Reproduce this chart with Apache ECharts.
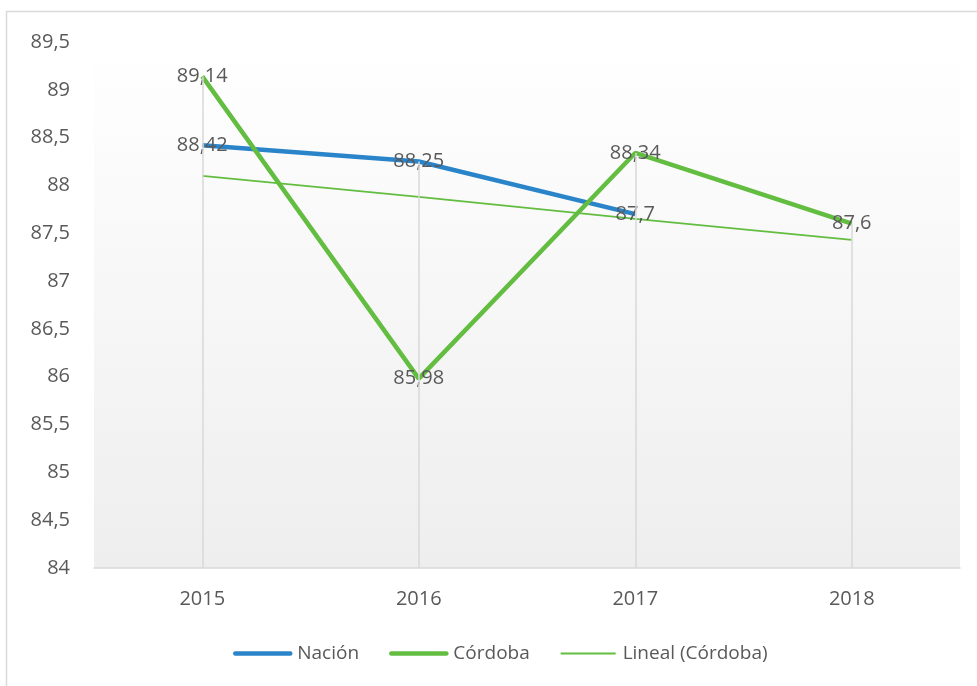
<!DOCTYPE html>
<html>
<head>
<meta charset="utf-8">
<script src="https://cdn.jsdelivr.net/npm/echarts@6/dist/echarts.min.js"></script>
<style>
html,body{margin:0;padding:0;background:#fff;}
#c{width:977px;height:686px;}
</style>
</head>
<body>
<div id="c"></div>
<script>
const categories = ['2015', '2016', '2017', '2018'];
const nacion = [88.42, 88.25, 87.7, null];
const cordoba = [89.14, 85.98, 88.34, 87.6];
const linealCordoba = [88.10, 87.88, 87.65, 87.43];
const yMin = 84, yMax = 89.5, yStep = 0.5;

const textColor = '#595959';
const font = 'Open Sans';
const fmt = v => String(v).replace('.', ',');
const blue = '#2a84c9', green = '#62bd41';

const dropTops = categories.map((c, i) => Math.max(...[nacion[i], cordoba[i]].filter(v => v != null)));

const chart = echarts.init(document.getElementById('c'), null, {renderer: 'canvas'});
chart.setOption({
  animation: false,
  backgroundColor: '#fff',
  graphic: [{
    type: 'rect', silent: true, z: -10,
    shape: {x: 6.5, y: 11.5, width: 990, height: 700},
    style: {fill: 'none', stroke: '#d9d9d9', lineWidth: 1.5}
  }],
  grid: {
    left: 94, right: 17, top: 42, bottom: 118,
    show: true, borderWidth: 0,
    backgroundColor: {
      type: 'linear', x: 0, y: 0, x2: 0, y2: 1,
      colorStops: [{offset: 0, color: '#ffffff'}, {offset: 1, color: '#eeeeee'}]
    }
  },
  legend: {
    bottom: 18, left: 228,
    itemWidth: 55, itemHeight: 14, itemGap: 30,
    data: [
      {name: 'Nación', lineStyle: {width: 4.5, color: blue, cap: 'round'}},
      {name: 'Córdoba', lineStyle: {width: 4.5, color: green, cap: 'round'}},
      {name: 'Lineal (Córdoba)', lineStyle: {width: 1.8, color: green}}
    ],
    itemStyle: {opacity: 0},
    textStyle: {color: textColor, fontFamily: font, fontSize: 19, padding: [0, 0, 0, 2]}
  },
  xAxis: {
    type: 'category', data: categories, boundaryGap: true,
    axisTick: {show: false},
    axisLine: {lineStyle: {color: '#d9d9d9', width: 1.5}},
    axisLabel: {color: textColor, fontFamily: font, fontSize: 20, margin: 21},
    splitLine: {show: false}
  },
  yAxis: {
    type: 'value', min: yMin, max: yMax, interval: yStep,
    axisLine: {show: false}, axisTick: {show: false},
    splitLine: {show: false},
    axisLabel: {color: textColor, fontFamily: font, fontSize: 20, margin: 24, formatter: v => fmt(v)}
  },
  series: [
    {
      name: 'drop', type: 'line', data: [], z: 1, silent: true,
      markLine: {
        silent: true, symbol: 'none', animation: false,
        label: {show: false},
        lineStyle: {color: '#d9d9d9', width: 1.5, type: 'solid'},
        data: categories.map((c, i) => [{coord: [c, dropTops[i]]}, {coord: [c, yMin]}])
      }
    },
    {
      name: 'Lineal (Córdoba)', type: 'line', data: linealCordoba, z: 2,
      symbol: 'none', lineStyle: {color: green, width: 1.8}, itemStyle: {color: green}
    },
    {
      name: 'Nación', type: 'line', data: nacion, z: 3,
      symbol: 'circle', symbolSize: 1, showSymbol: true,
      lineStyle: {color: blue, width: 4.5}, itemStyle: {color: blue},
      label: {show: true, position: 'inside', color: textColor, fontFamily: font, fontSize: 20, formatter: p => fmt(p.value)}
    },
    {
      name: 'Córdoba', type: 'line', data: cordoba, z: 4,
      symbol: 'circle', symbolSize: 1, showSymbol: true,
      lineStyle: {color: green, width: 4.5}, itemStyle: {color: green},
      label: {show: true, position: 'inside', color: textColor, fontFamily: font, fontSize: 20, formatter: p => fmt(p.value)}
    }
  ]
});
</script>
</body>
</html>
